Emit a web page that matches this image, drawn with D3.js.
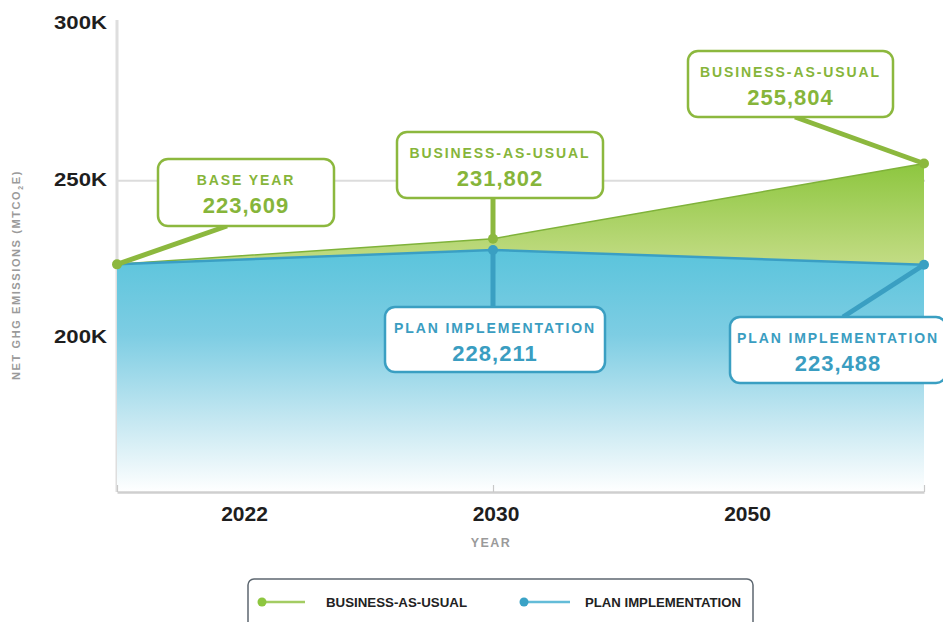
<!DOCTYPE html>
<html>
<head>
<meta charset="utf-8">
<script src="https://cdn.jsdelivr.net/npm/d3@7"></script>
<style>
  html, body { margin: 0; padding: 0; background: #fff; }
  svg { display: block; font-family: "Liberation Sans", Arial, sans-serif; }
</style>
</head>
<body>
<svg id="chart" width="943" height="622"></svg>
<script>
// ---------- DATA ----------
const years = ["2022", "2030", "2050"];
const businessAsUsual = [223609, 231802, 255804];
const planImplementation = [223609, 228211, 223488];
const yTicks = [200000, 250000, 300000];
const seriesNames = ["BUSINESS-AS-USUAL", "PLAN IMPLEMENTATION"];
const yAxisTitle = "NET GHG EMISSIONS (MTCO";
const xAxisTitle = "YEAR";
// callouts: [series, point index, title]
const callouts = [
  { series: "bau", i: 0, title: "BASE YEAR", value: businessAsUsual[0] },
  { series: "bau", i: 1, title: "BUSINESS-AS-USUAL", value: businessAsUsual[1] },
  { series: "pi",  i: 1, title: "PLAN IMPLEMENTATION", value: planImplementation[1] },
  { series: "bau", i: 2, title: "BUSINESS-AS-USUAL", value: businessAsUsual[2] },
  { series: "pi",  i: 2, title: "PLAN IMPLEMENTATION", value: planImplementation[2] }
];

// ---------- LAYOUT / STYLE ----------
const boxLayout = [
  { x: 158, y: 159, w: 176, h: 67, ax: 227, ay: 226 },
  { x: 397, y: 132, w: 206, h: 66, ax: 493, ay: 198 },
  { x: 385, y: 307, w: 220, h: 65, ax: 493, ay: 307 },
  { x: 688, y: 51,  w: 205, h: 66, ax: 795, ay: 117 },
  { x: 730, y: 317, w: 216, h: 66, ax: 843, ay: 317 }
];
const GREEN = "#8cb83e", GREEN_TXT = "#86b53a", BLUE = "#3a9fc2", BLUE_TXT = "#3a9dc1";

const svg = d3.select("#chart");
const x = d3.scaleLinear().domain([0, 1, 2]).range([117, 493, 924]);
const xLabel = d3.scalePoint().domain(years).range([244, 747]);
const y = d3.scaleLinear().domain([150000, 300000]).range([495, 25]);
const yBase = 492;

const defs = svg.append("defs");
const bg = defs.append("linearGradient").attr("id", "blueGrad")
  .attr("gradientUnits", "userSpaceOnUse").attr("x1", 0).attr("x2", 0)
  .attr("y1", y(d3.max(planImplementation))).attr("y2", yBase);
bg.append("stop").attr("offset", 0).attr("stop-color", "#5ac4dc");
bg.append("stop").attr("offset", 0.35).attr("stop-color", "#7dcde3");
bg.append("stop").attr("offset", 0.7).attr("stop-color", "#c4e7f1");
bg.append("stop").attr("offset", 1).attr("stop-color", "#ffffff");
const gg = defs.append("linearGradient").attr("id", "greenGrad")
  .attr("gradientUnits", "userSpaceOnUse").attr("x1", 0).attr("x2", 0)
  .attr("y1", y(d3.max(businessAsUsual))).attr("y2", y(d3.min(planImplementation)));
gg.append("stop").attr("offset", 0).attr("stop-color", "#8dc63f");
gg.append("stop").attr("offset", 1).attr("stop-color", "#c3dc85");

// gridlines
svg.append("g").selectAll("line").data(yTicks.filter(t => t < 300000)).join("line")
  .attr("x1", x(0)).attr("x2", x(2) + 1)
  .attr("y1", d => y(d) - 1).attr("y2", d => y(d) - 1)
  .attr("stroke", "#dcdcdc").attr("stroke-width", 2);

// y axis line
svg.append("line").attr("x1", x(0)).attr("x2", x(0)).attr("y1", 20).attr("y2", yBase)
  .attr("stroke", "#dedede").attr("stroke-width", 3);

// areas
const idx = [0, 1, 2];
const greenArea = d3.area().x(i => x(i)).y0(yBase).y1(i => y(businessAsUsual[i]));
const blueArea = d3.area().x(i => x(i)).y0(yBase).y1(i => y(planImplementation[i]));
svg.append("path").datum(idx).attr("d", greenArea).attr("fill", "url(#greenGrad)");
svg.append("path").datum(idx).attr("d", blueArea).attr("fill", "url(#blueGrad)");

// lines
svg.append("path").datum(idx)
  .attr("d", d3.line().x(i => x(i)).y(i => y(businessAsUsual[i])))
  .attr("fill", "none").attr("stroke", "#7fb23a").attr("stroke-width", 1.5);
svg.append("path").datum(idx)
  .attr("d", d3.line().x(i => x(i)).y(i => y(planImplementation[i])))
  .attr("fill", "none").attr("stroke", "#3a9fc4").attr("stroke-width", 2.5);

// bottom axis (ticks)
const xAxisG = svg.append("g").attr("transform", `translate(0,${yBase})`)
  .call(d3.axisBottom(x).tickValues(idx).tickSize(-7).tickSizeOuter(0).tickFormat(""));
xAxisG.select(".domain").attr("stroke", "#cfcfcf").attr("stroke-width", 2.5);
xAxisG.selectAll(".tick line").attr("stroke", "#c8c8c8").attr("stroke-width", 1.2);

// x labels
const xl = svg.append("g").attr("transform", `translate(0,${yBase})`)
  .call(d3.axisBottom(xLabel).tickSize(0).tickPadding(14));
xl.select(".domain").remove();
xl.selectAll("text").attr("font-size", 21).attr("font-weight", "bold")
  .attr("fill", "#1e1e1e").attr("font-family", "Liberation Sans, Arial, sans-serif");

// y labels
const yl = svg.append("g").attr("transform", `translate(${x(0)},-2)`)
  .call(d3.axisLeft(y).tickValues(yTicks).tickFormat(d => d / 1000 + "K").tickSize(0).tickPadding(10));
yl.select(".domain").remove();
yl.selectAll("text").attr("font-size", 18).attr("font-weight", "bold").attr("fill", "#1e1e1e")
  .attr("font-family", "Liberation Sans, Arial, sans-serif")
  .attr("textLength", 53).attr("lengthAdjust", "spacingAndGlyphs");

// axis titles
svg.append("text").attr("x", 491).attr("y", 547).attr("text-anchor", "middle")
  .attr("font-size", 12.5).attr("font-weight", "bold").attr("fill", "#9a9a9a")
  .attr("letter-spacing", 1.5).text(xAxisTitle);
const yt = svg.append("text").attr("transform", "translate(20,275) rotate(-90)")
  .attr("text-anchor", "middle").attr("font-size", 11).attr("font-weight", "bold")
  .attr("fill", "#9a9a9a").attr("letter-spacing", 1.6);
yt.append("tspan").text(yAxisTitle);
yt.append("tspan").attr("font-size", 7).attr("dy", 3).text("2");
yt.append("tspan").attr("dy", -3).text("E)");

// connectors + dots
const fmt = d3.format(",");
callouts.forEach((c, k) => {
  const b = boxLayout[k];
  const col = c.series === "bau" ? GREEN : BLUE;
  const val = c.series === "bau" ? businessAsUsual[c.i] : planImplementation[c.i];
  svg.append("line").attr("x1", x(c.i)).attr("y1", y(val)).attr("x2", b.ax).attr("y2", b.ay)
    .attr("stroke", col).attr("stroke-width", 5);
  svg.append("circle").attr("cx", x(c.i)).attr("cy", y(val)).attr("r", 5).attr("fill", col);
});

// boxes
callouts.forEach((c, k) => {
  const b = boxLayout[k];
  const col = c.series === "bau" ? GREEN : BLUE;
  const tcol = c.series === "bau" ? GREEN_TXT : BLUE_TXT;
  const g = svg.append("g");
  g.append("rect").attr("x", b.x).attr("y", b.y).attr("width", b.w).attr("height", b.h)
    .attr("rx", 10).attr("fill", "#fff").attr("stroke", col).attr("stroke-width", 2.5);
  const cx = Math.min(b.x + b.w / 2, 838);
  g.append("text").attr("x", cx).attr("y", b.y + 25.5).attr("text-anchor", "middle")
    .attr("font-size", 14).attr("font-weight", "bold").attr("fill", tcol)
    .attr("letter-spacing", 1.9).text(c.title);
  g.append("text").attr("x", cx).attr("y", b.y + 54).attr("text-anchor", "middle")
    .attr("font-size", 22).attr("font-weight", "bold").attr("fill", tcol)
    .attr("letter-spacing", 1).text(fmt(c.value));
});

// legend
svg.append("rect").attr("x", 248).attr("y", 579).attr("width", 505).attr("height", 60)
  .attr("rx", 6).attr("fill", "#fff").attr("stroke", "#5d6770").attr("stroke-width", 1.5);
const legendItems = [
  { name: seriesNames[0], col: "#8dc63f", line: "#a3cc62", x0: 262, x1: 305, tx: 326, tl: 141 },
  { name: seriesNames[1], col: "#3aa2c6", line: "#63bcd8", x0: 524, x1: 570, tx: 585, tl: 156 }
];
legendItems.forEach(d => {
  svg.append("line").attr("x1", d.x0).attr("x2", d.x1).attr("y1", 602).attr("y2", 602)
    .attr("stroke", d.line).attr("stroke-width", 2.5);
  svg.append("circle").attr("cx", d.x0).attr("cy", 602).attr("r", 4.5).attr("fill", d.col);
  svg.append("text").attr("x", d.tx).attr("y", 607).attr("font-size", 12.5).attr("font-weight", "bold")
    .attr("fill", "#222").attr("textLength", d.tl).attr("lengthAdjust", "spacingAndGlyphs").text(d.name);
});
</script>
</body>
</html>
